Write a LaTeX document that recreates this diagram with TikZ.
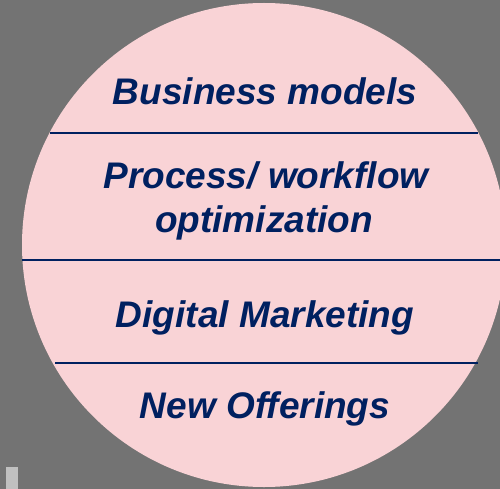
\documentclass[tikz,border=0pt]{standalone}
\usepackage{fontspec}
\setmainfont{Liberation Sans}
\definecolor{bggray}{RGB}{115,115,115}
\definecolor{pinkfill}{RGB}{249,211,214}
\definecolor{navy}{RGB}{0,32,96}
\definecolor{lightgray2}{RGB}{192,192,192}
\tikzset{
  label text/.style={text=navy, font=\fontsize{37}{44}\selectfont\bfseries\itshape, anchor=base, align=center, inner sep=0pt},
  divider/.style={draw=navy, line width=1.4pt}
}
\begin{document}
\begin{tikzpicture}[x=1pt,y=-1pt]
\fill[bggray] (0,0) rectangle (500,489);
\useasboundingbox (0,0) rectangle (500,489);
\fill[pinkfill] (264,245) circle[radius=242];
\fill[lightgray2] (6,467) rectangle (18,489);
\draw[divider] (50,133) -- (478,133);
\draw[divider] (22,260) -- (500,260);
\draw[divider] (55,363) -- (478,363);
\node[label text] (bm) at (265,105) {Business models};
\node[label text] (pw) at (266,188) {Process/ workflow};
\node[label text] (op) at (264,232) {optimization};
\node[label text] (dm) at (265,327) {Digital Marketing};
\node[label text] (no) at (265,418) {New Offerings};
\end{tikzpicture}
\end{document}
